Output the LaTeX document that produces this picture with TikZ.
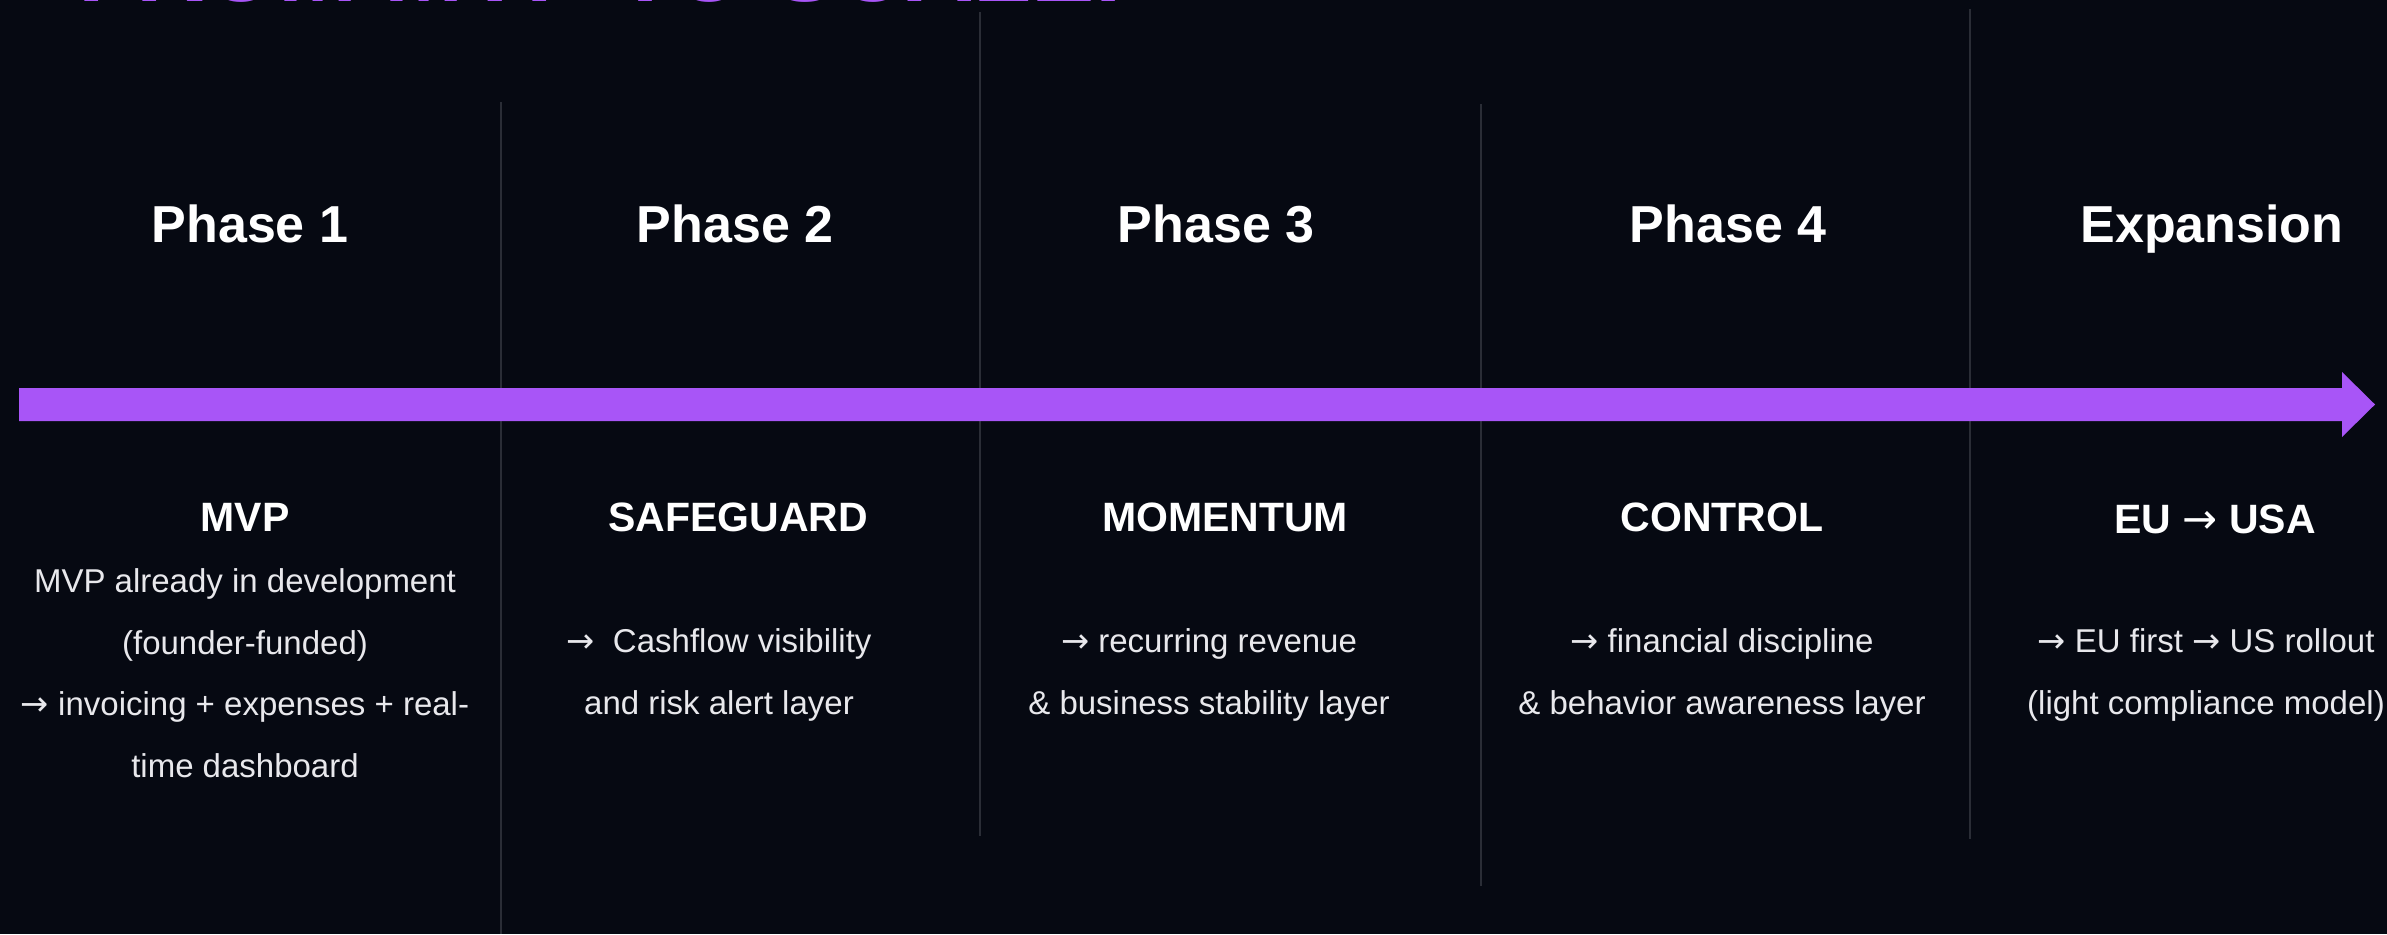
\documentclass[tikz,border=0pt]{standalone}
\usepackage{fontspec}
\setmainfont{Liberation Sans}
\newfontfamily\arrowfont{DejaVu Sans}
\definecolor{pagebg}{HTML}{060912}
\definecolor{brandpurple}{HTML}{A855F7}
\definecolor{rulegray}{HTML}{2A2D36}
\definecolor{bodytext}{HTML}{E8E8EC}

% right arrow glyph at the size of the surrounding text
\newcommand{\rarrow}{{\arrowfont\fontsize{1.02\dimexpr\fontdimen6\font\relax}{0pt}\selectfont →}}

\tikzset{
  phasehead/.style={anchor=base, text=white, font=\fontsize{52}{60}\selectfont\bfseries, inner sep=0pt},
  stagehead/.style={anchor=base, text=white, font=\fontsize{41}{48}\selectfont\bfseries, inner sep=0pt},
  stagebody/.style={anchor=base, text=bodytext, align=center, font=\fontsize{33}{61.5}\selectfont, inner sep=0pt},
  divider/.style={draw=rulegray, line width=2pt},
  timeline/.style={fill=brandpurple, draw=none}
}

\begin{document}
\begin{tikzpicture}[x=1pt, y=-1pt]
  \useasboundingbox (0,0) rectangle (2387,934);
  \clip (0,0) rectangle (2387,934);
  \fill[pagebg] (0,0) rectangle (2387,934);

  % title running off the top edge
  \node[anchor=base west, inner sep=0pt, text=brandpurple,
        font=\fontsize{95}{100}\selectfont\bfseries] (title) at (78,2) {FROM MVP TO SCALE.};

  % column separators
  \draw[divider] (501,102) -- (501,934);
  \draw[divider] (980,12)  -- (980,836);
  \draw[divider] (1481,104) -- (1481,886);
  \draw[divider] (1970,9)  -- (1970,839);

  % timeline arrow
  \coordinate (tlstart) at (19,404.5);
  \coordinate (tltip) at (2375,404.5);
  \fill[timeline] (19,388) -- (2342,388) -- (2342,372) -- (tltip)
                  -- (2342,437) -- (2342,421) -- (19,421) -- cycle;

  % phase labels
  \node[phasehead] (p1) at (250,242)  {Phase 1};
  \node[phasehead] (p2) at (735,242)  {Phase 2};
  \node[phasehead] (p3) at (1216,242) {Phase 3};
  \node[phasehead] (p4) at (1728,242) {Phase 4};
  \node[phasehead] (p5) at (2212,242) {Expansion};

  % stage names
  \node[stagehead] (s1) at (245,531)  {MVP};
  \node[stagehead] (s2) at (738,531)  {SAFEGUARD};
  \node[stagehead] (s3) at (1225,531) {MOMENTUM};
  \node[stagehead] (s4) at (1722,531) {CONTROL};
  \node[stagehead] (s5) at (2215,533) {EU \mdseries\rarrow\ \bfseries USA};

  % stage descriptions (anchored on the baseline of the last line)
  \node[stagebody] (b1) at (245,777)
    {MVP already in development\\(founder-funded)\\\rarrow\ invoicing + expenses + real-\\time dashboard};
  \node[stagebody] (b2) at (719,714)
    {\rarrow\ \ Cashflow visibility\\and risk alert layer};
  \node[stagebody] (b3) at (1209,714)
    {\rarrow\ recurring revenue\\\& business stability layer};
  \node[stagebody] (b4) at (1722,714)
    {\rarrow\ financial discipline\\\& behavior awareness layer};
  \node[stagebody] (b5) at (2206,714)
    {\rarrow\ EU first \rarrow\ US rollout\\(light compliance model)};
\end{tikzpicture}
\end{document}
